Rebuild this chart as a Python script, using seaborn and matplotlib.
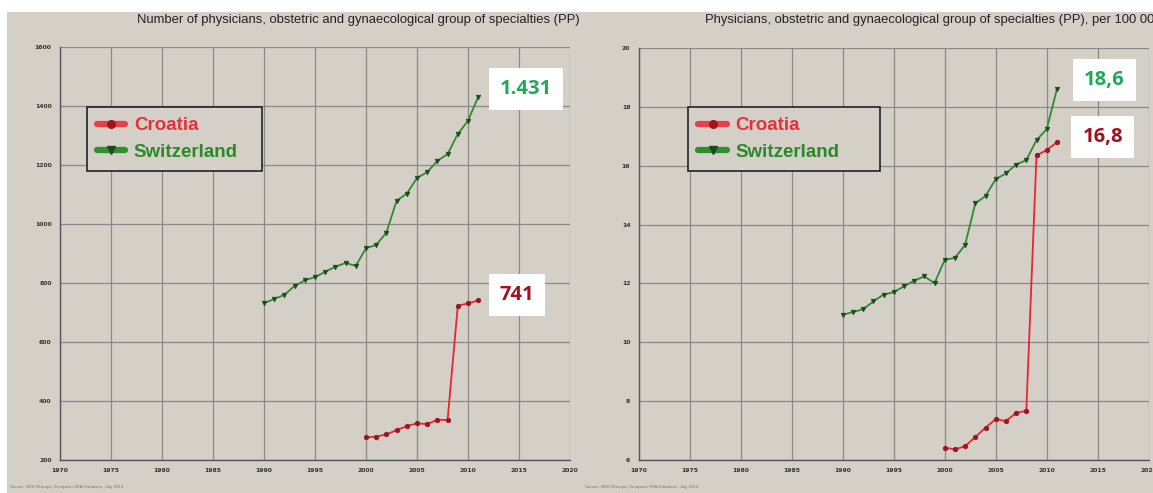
import matplotlib
matplotlib.use("Agg")
import matplotlib.pyplot as plt
from matplotlib.lines import Line2D
from matplotlib.patches import Rectangle
from matplotlib.ticker import MultipleLocator, FormatStrFormatter
import pandas as pd
import seaborn as sns

# ---- data -------------------------------------------------------------
years_hr = list(range(2000, 2012))
years_ch = list(range(1990, 2012))

count_hr = [277, 279, 287, 301, 315, 324, 322, 336, 336, 723, 731, 741]
count_ch = [731, 746, 760, 790, 809, 820, 838, 855, 868, 858, 918, 929,
            971, 1079, 1103, 1156, 1176, 1214, 1237, 1305, 1350, 1431]

rate_hr = [6.42, 6.36, 6.47, 6.78, 7.10, 7.39, 7.32, 7.60, 7.67, 16.35, 16.53, 16.8]
rate_ch = [10.93, 11.03, 11.12, 11.39, 11.62, 11.70, 11.90, 12.09, 12.24, 12.01,
           12.80, 12.87, 13.31, 14.72, 14.97, 15.54, 15.74, 16.04, 16.19, 16.87,
           17.24, 18.6]

countries = ["Croatia", "Switzerland"]
titles = ["Number of physicians, obstetric and gynaecological group of specialties (PP)",
          "Physicians, obstetric and gynaecological group of specialties (PP), per 100 000"]
value_labels_left = ["741", "1.431"]
value_labels_right = ["16,8", "18,6"]
source_note = "Source: WHO/Europe, European HFA Database, July 2014"

# ---- style ------------------------------------------------------------
sns.set_style("white")
plt.rcParams["font.family"] = ["Liberation Sans", "DejaVu Sans"]

panel_bg = "#d4d0c8"
grid_col = "#8c8883"
line_col = {"Croatia": "#e8262e", "Switzerland": "#2e8a2e"}
mark_col = {"Croatia": "#9c1520", "Switzerland": "#1d4a1d"}
legend_line = {"Croatia": "#e84048", "Switzerland": "#2f8f2f"}
legend_txt = {"Croatia": "#e8303a", "Switzerland": "#2a8a2a"}
value_col = {"Croatia": "#a3101e", "Switzerland": "#1eaa5a"}
markers = {"Croatia": "o", "Switzerland": "v"}

W, H = 1153, 493
fig = plt.figure(figsize=(W / 100, H / 100), dpi=100)
fig.patch.set_facecolor("white")
fig.add_artist(Rectangle((7 / W, 0), 1 - 7 / W, 1 - 12 / H, transform=fig.transFigure,
                         facecolor=panel_bg, edgecolor="none", zorder=-10))

ax_w = 510 / W
ax_l = fig.add_axes([60 / W, 1 - 460 / H, ax_w, 413 / H])
ax_r = fig.add_axes([638.7 / W, 1 - 460 / H, ax_w, 412 / H])

datasets = [
    (ax_l, {"Croatia": (years_hr, count_hr), "Switzerland": (years_ch, count_ch)},
     (200, 1600), 200, 40, value_labels_left,
     {"Croatia": (28, 4), "Switzerland": (34.5, 5.5)}, (0.053, 0.702, 0.343, 0.153)),
    (ax_r, {"Croatia": (years_hr, rate_hr), "Switzerland": (years_ch, rate_ch)},
     (6, 20), 2, 0.4, value_labels_right,
     {"Croatia": (33, 4), "Switzerland": (34, 6.5)}, (0.097, 0.702, 0.376, 0.155)),
]

for ax, series, ylim, ymaj, ymin, vlabels, offsets, leg_box in datasets:
    ax.set_facecolor("none")
    for c in countries:
        xs, ys = series[c]
        df = pd.DataFrame({"year": xs, "value": ys})
        sns.lineplot(data=df, x="year", y="value", ax=ax, color=line_col[c],
                     linewidth=1.3, marker=markers[c], markersize=3.2,
                     markerfacecolor=mark_col[c], markeredgecolor=mark_col[c],
                     markeredgewidth=0.6, zorder=3)
    for c, lab in zip(countries, vlabels):
        xs, ys = series[c]
        ax.annotate(lab, xy=(xs[-1], ys[-1]), xytext=offsets[c],
                    textcoords="offset points", ha="center", va="center",
                    fontsize=14.5, fontweight="bold", color=value_col[c],
                    family=["Open Sans", "DejaVu Sans"],
                    bbox=dict(boxstyle="square,pad=0.55", facecolor="white",
                              edgecolor="none"), zorder=5)

    ax.set_xlim(1970, 2020)
    ax.set_ylim(*ylim)
    ax.xaxis.set_major_locator(MultipleLocator(5))
    ax.xaxis.set_minor_locator(MultipleLocator(1))
    ax.yaxis.set_major_locator(MultipleLocator(ymaj))
    ax.yaxis.set_minor_locator(MultipleLocator(ymin))
    ax.yaxis.set_major_formatter(FormatStrFormatter("%d"))
    ax.grid(True, which="major", color=grid_col, linewidth=0.9)
    ax.set_axisbelow(True)
    ax.set_xlabel("")
    ax.set_ylabel("")
    for s in ["top", "right"]:
        ax.spines[s].set_visible(False)
    for s in ["left", "bottom"]:
        ax.spines[s].set_color("#555555")
        ax.spines[s].set_linewidth(1.0)
    ax.tick_params(which="major", direction="out", length=4, width=0.8,
                   color="#555555", labelsize=4.4, labelcolor="#333333", pad=2)
    ax.tick_params(which="minor", direction="out", length=2.5, width=0.7,
                   color="#555555")
    for t in ax.get_xticklabels() + ax.get_yticklabels():
        t.set_fontweight("bold")
        t.set_family(["DejaVu Sans"])

    handles = [Line2D([], [], color=legend_line[c], linewidth=4.5, marker=markers[c],
                      markersize=5.5, markerfacecolor=mark_col[c],
                      markeredgecolor=mark_col[c]) for c in countries]
    leg = ax.legend(handles, countries, loc="upper left", bbox_to_anchor=leg_box,
                    mode="expand", borderaxespad=0, frameon=True, fancybox=False,
                    handlelength=1.5, handletextpad=0.45, borderpad=0.55,
                    labelspacing=0.5,
                    prop={"family": "Liberation Sans", "weight": "bold", "size": 13.5})
    leg.get_frame().set_edgecolor("#222222")
    leg.get_frame().set_linewidth(1.2)
    leg.get_frame().set_facecolor(panel_bg)
    leg.get_frame().set_alpha(1)
    for txt, c in zip(leg.get_texts(), countries):
        txt.set_color(legend_txt[c])

fig.text(358 / W, 1 - 20 / H, titles[0], ha="center", va="center", fontsize=9.4,
         color="#222222")
fig.text(705 / W, 1 - 20 / H, titles[1], ha="left", va="center", fontsize=9.4,
         color="#222222")
fig.text(10 / W, 1 - 487 / H, source_note, ha="left", va="center", fontsize=3.2,
         color="#777777")
fig.text(585 / W, 1 - 487 / H, source_note, ha="left", va="center", fontsize=3.2,
         color="#777777")

fig.savefig("out.png", dpi=100)
